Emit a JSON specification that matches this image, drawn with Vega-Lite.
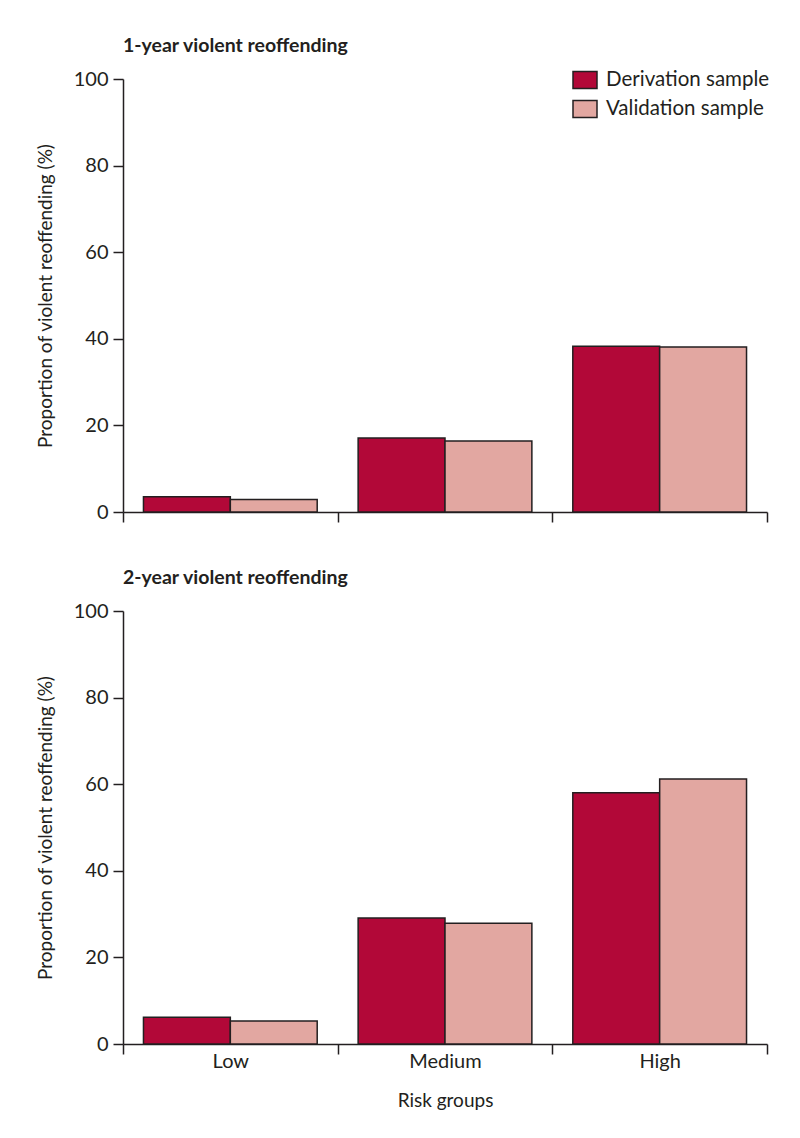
{
  "$schema": "https://vega.github.io/schema/vega-lite/v6.json",
  "background": "white",
  "padding": {"left": 36, "top": 35, "right": 20, "bottom": 20},
  "spacing": 44,
  "data": {"values": [
    {"panel": "1-year", "risk": "Low", "sample": "Derivation sample", "pct": 3.5},
    {"panel": "1-year", "risk": "Low", "sample": "Validation sample", "pct": 2.9},
    {"panel": "1-year", "risk": "Medium", "sample": "Derivation sample", "pct": 17.1},
    {"panel": "1-year", "risk": "Medium", "sample": "Validation sample", "pct": 16.4},
    {"panel": "1-year", "risk": "High", "sample": "Derivation sample", "pct": 38.3},
    {"panel": "1-year", "risk": "High", "sample": "Validation sample", "pct": 38.1},
    {"panel": "2-year", "risk": "Low", "sample": "Derivation sample", "pct": 6.2},
    {"panel": "2-year", "risk": "Low", "sample": "Validation sample", "pct": 5.3},
    {"panel": "2-year", "risk": "Medium", "sample": "Derivation sample", "pct": 29.1},
    {"panel": "2-year", "risk": "Medium", "sample": "Validation sample", "pct": 27.9},
    {"panel": "2-year", "risk": "High", "sample": "Derivation sample", "pct": 58.0},
    {"panel": "2-year", "risk": "High", "sample": "Validation sample", "pct": 61.2}
  ]},
  "config": {
    "font": "Lato",
    "view": {"stroke": null},
    "axis": {
      "domainColor": "#231f20", "tickColor": "#231f20", "domainWidth": 1.5, "tickWidth": 1.5,
      "labelColor": "#231f20", "titleColor": "#231f20", "labelFontSize": 20, "titleFontSize": 19,
      "titleFontWeight": "normal", "grid": false, "tickSize": 10
    },
    "title": {"fontSize": 19.5, "fontWeight": "bold", "color": "#231f20", "anchor": "start", "frame": "group"},
    "legend": {"labelFontSize": 20.5, "labelColor": "#231f20", "labelLimit": 300}
  },
  "vconcat": [
    {
      "width": 644, "height": 433,
      "title": {"text": "1-year violent reoffending", "offset": 13},
      "transform": [{"filter": "datum.panel === '1-year'"}],
      "mark": {"type": "bar", "stroke": "#231f20", "strokeWidth": 1.5},
      "encoding": {
        "x": {"field": "risk", "type": "nominal", "sort": ["Low", "Medium", "High"],
              "scale": {"paddingInner": 0, "paddingOuter": 0},
              "axis": {"title": null, "labels": false, "tickBand": "extent", "labelAngle": 0}},
        "xOffset": {"field": "sample", "type": "nominal", "scale": {"paddingInner": 0, "paddingOuter": 0.2356}},
        "y": {"field": "pct", "type": "quantitative", "scale": {"domain": [0, 100], "nice": false},
              "axis": {"title": "Proportion of violent reoffending (%)", "values": [0, 20, 40, 60, 80, 100], "titlePadding": 18, "labelPadding": 5}},
        "fill": {"field": "sample", "type": "nominal",
                 "scale": {"range": ["#b20838", "#e2a7a1"]},
                 "legend": {"title": null, "orient": "none", "legendX": 449, "legendY": -12,
                            "symbolType": "M-1,-0.7H1V0.7H-1Z", "symbolSize": 576,
                            "symbolStrokeColor": "#231f20", "symbolStrokeWidth": 1.5,
                            "rowPadding": 4, "labelOffset": 8}}
      }
    },
    {
      "width": 644, "height": 433,
      "title": {"text": "2-year violent reoffending", "offset": 13},
      "transform": [{"filter": "datum.panel === '2-year'"}],
      "mark": {"type": "bar", "stroke": "#231f20", "strokeWidth": 1.5},
      "encoding": {
        "x": {"field": "risk", "type": "nominal", "sort": ["Low", "Medium", "High"],
              "scale": {"paddingInner": 0, "paddingOuter": 0},
              "axis": {"title": "Risk groups", "tickBand": "extent", "labelAngle": 0, "labelPadding": -3, "titlePadding": 20, "labelBaseline": "top"}},
        "xOffset": {"field": "sample", "type": "nominal", "scale": {"paddingInner": 0, "paddingOuter": 0.2356}},
        "y": {"field": "pct", "type": "quantitative", "scale": {"domain": [0, 100], "nice": false},
              "axis": {"title": "Proportion of violent reoffending (%)", "values": [0, 20, 40, 60, 80, 100], "titlePadding": 18, "labelPadding": 5}},
        "fill": {"field": "sample", "type": "nominal",
                 "scale": {"range": ["#b20838", "#e2a7a1"]}, "legend": null}
      }
    }
  ]
}
